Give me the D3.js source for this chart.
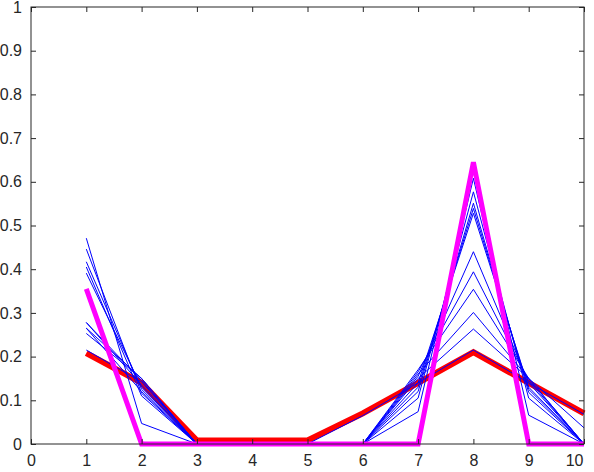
<!DOCTYPE html>
<html>
<head>
<meta charset="utf-8">
<script src="https://cdn.jsdelivr.net/npm/d3@7"></script>
<style>
	body { margin: 0; background: #fff; }
	svg { display: block; }
	.tick text { font-family: "Liberation Sans", Arial, sans-serif; font-size: 16px; fill: #262626; }
	.domain { display: none; }
	.tick line { stroke: #262626; }
</style>
</head>
<body>
<div id="chart"><svg></svg></div>
<script>
const xs = [1, 2, 3, 4, 5, 6, 7, 8, 9, 10]
const xTicks = [0, 1, 2, 3, 4, 5, 6, 7, 8, 9, 10]
const yTicks = [0, 0.1, 0.2, 0.3, 0.4, 0.5, 0.6, 0.7, 0.8, 0.9, 1]

// starting profile (red) and target profile (magenta)
const startSeries = [0.208, 0.14, 0.008, 0.008, 0.008, 0.07, 0.14, 0.21, 0.14, 0.07]
const targetSeries = [0.355, 0, 0, 0, 0, 0, 0, 0.645, 0, 0]

// intermediate profiles (thin blue)
const iterSeries = [
	[0.215, 0.142, 0, 0, 0, 0.065, 0.14, 0.215, 0.14, 0.068],
	[0.253, 0.15, 0, 0, 0, 0, 0.15, 0.263, 0.15, 0.037],
	[0.265, 0.15, 0, 0, 0, 0, 0.16, 0.301, 0.15, 0],
	[0.278, 0.145, 0, 0, 0, 0, 0.17, 0.354, 0.15, 0],
	[0.278, 0.135, 0, 0, 0, 0, 0.165, 0.394, 0.145, 0],
	[0.265, 0.12, 0, 0, 0, 0, 0.155, 0.44, 0.14, 0],
	[0.391, 0.13, 0, 0, 0, 0, 0.14, 0.528, 0.13, 0],
	[0.417, 0.125, 0, 0, 0, 0, 0.13, 0.539, 0.125, 0],
	[0.446, 0.116, 0, 0, 0, 0, 0.12, 0.551, 0.118, 0],
	[0.471, 0.047, 0, 0, 0, 0, 0.074, 0.608, 0.066, 0],
	[0.405, 0.11, 0, 0, 0, 0, 0.105, 0.577, 0.105, 0]
]

const width = 594
const height = 472
const margin = { top: 7, right: 10, bottom: 28, left: 31 }

const $svg = d3.select('#chart svg')
	.attr('width', width)
	.attr('height', height)

const scaleX = d3.scaleLinear()
	.domain([0, 10])
	.range([margin.left, width - margin.right])

const scaleY = d3.scaleLinear()
	.domain([0, 1])
	.range([height - margin.bottom, margin.top])

function drawAxes() {
	const x0 = scaleX.range()[0]
	const x1 = scaleX.range()[1]
	const y0 = scaleY.range()[0]
	const y1 = scaleY.range()[1]

	const $xAxis = $svg.append('g')
		.attr('transform', `translate(0,${y0})`)
		.call(d3.axisBottom(scaleX).tickValues(xTicks).tickSizeInner(-5).tickSizeOuter(0).tickPadding(11))

	// last label is pulled inside the figure edge
	$xAxis.selectAll('.tick text')
		.filter(d => d === 10)
		.attr('text-anchor', 'end')
		.attr('x', -1)

	$svg.append('g')
		.attr('transform', `translate(0,${y1})`)
		.call(d3.axisTop(scaleX).tickValues(xTicks).tickSizeInner(-5).tickSizeOuter(0).tickFormat(''))

	$svg.append('g')
		.attr('transform', `translate(${x0},0)`)
		.call(d3.axisLeft(scaleY).tickValues(yTicks).tickSizeInner(-5).tickSizeOuter(0).tickPadding(9).tickFormat(d3.format('~g')))

	$svg.append('g')
		.attr('transform', `translate(${x1},0)`)
		.call(d3.axisRight(scaleY).tickValues(yTicks).tickSizeInner(-5).tickSizeOuter(0).tickFormat(''))

	$svg.append('rect')
		.attr('x', x0)
		.attr('y', y1)
		.attr('width', x1 - x0)
		.attr('height', y0 - y1)
		.attr('fill', 'none')
		.attr('stroke', '#262626')
		.attr('stroke-width', 1)
}

function drawLines() {
	const line = d3.line()
		.x((d, i) => scaleX(xs[i]))
		.y(d => scaleY(d))

	const $gViz = $svg.append('g').attr('class', 'g-viz')

	$gViz.append('path')
		.datum(startSeries)
		.attr('d', line)
		.attr('fill', 'none')
		.attr('stroke', '#ff0000')
		.attr('stroke-width', 6)

	$gViz.selectAll('path.iter')
		.data(iterSeries)
		.enter()
		.append('path')
		.attr('class', 'iter')
		.attr('d', line)
		.attr('fill', 'none')
		.attr('stroke', '#0000ff')
		.attr('stroke-width', 1)

	$gViz.append('path')
		.datum(targetSeries)
		.attr('d', line)
		.attr('fill', 'none')
		.attr('stroke', '#ff00ff')
		.attr('stroke-width', 5)
}

drawLines()
drawAxes()
</script>
</body>
</html>
